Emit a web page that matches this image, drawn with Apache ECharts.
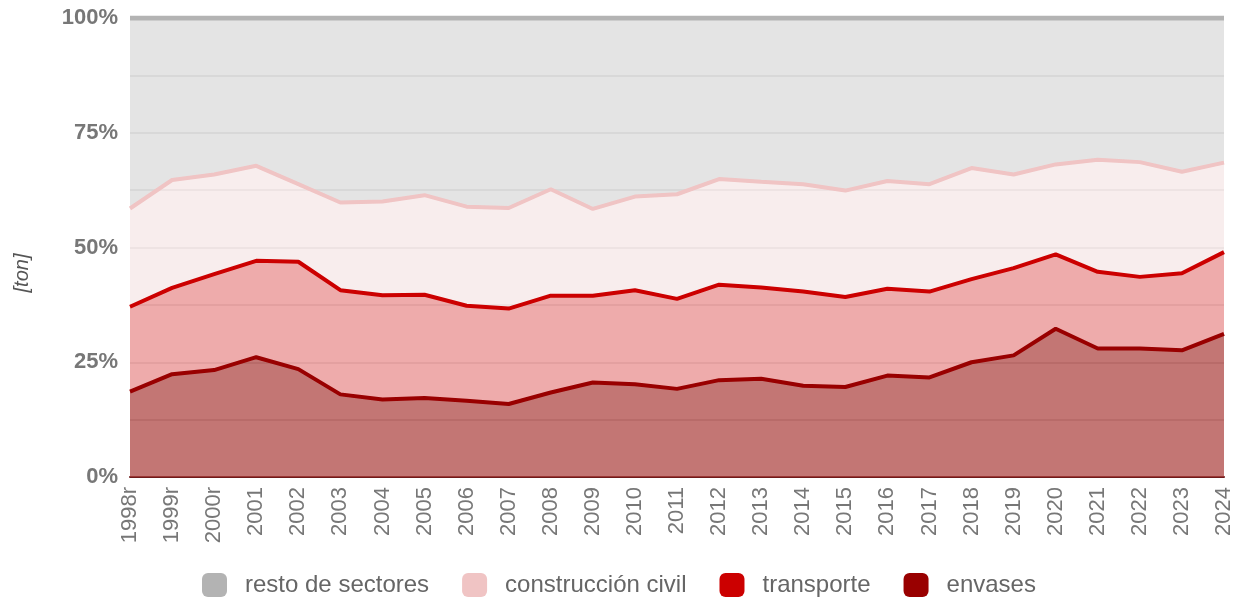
<!DOCTYPE html>
<html><head><meta charset="utf-8">
<script src="https://cdn.jsdelivr.net/npm/echarts@6/dist/echarts.min.js"></script>
<style>html,body{margin:0;padding:0;background:#fff}#c{width:1242px;height:603px}</style>
</head><body><div id="c"></div>
<script>
const categories = ['1998r','1999r','2000r','2001','2002','2003','2004','2005','2006','2007','2008','2009','2010','2011','2012','2013','2014','2015','2016','2017','2018','2019','2020','2021','2022','2023','2024'];
const envases = [18.6,22.4,23.3,26.1,23.5,18.0,16.9,17.2,16.6,15.9,18.4,20.6,20.2,19.2,21.1,21.4,19.9,19.6,22.1,21.7,25.0,26.5,32.3,28.0,28.0,27.6,31.2];
const transporte = [18.5,18.8,20.9,21.0,23.4,22.7,22.7,22.5,20.7,20.8,21.1,18.9,20.5,19.6,20.8,19.9,20.5,19.6,18.9,18.7,18.1,19.0,16.2,16.7,15.6,16.8,17.8];
const construccion = [21.4,23.5,21.7,20.7,16.9,19.1,20.4,21.7,21.6,21.9,23.2,18.9,20.4,22.8,23.0,23.0,23.4,23.2,23.5,23.4,24.2,20.4,19.6,24.4,25.0,22.1,19.5];
const resto = [41.5,35.3,34.1,32.2,36.2,40.2,40.0,38.6,41.1,41.4,37.3,41.6,38.9,38.4,35.1,35.7,36.2,37.6,35.5,36.2,32.7,34.1,31.9,30.9,31.4,33.5,31.5];
const yTicks = [0,25,50,75,100];

const font = "'Liberation Sans', Arial, sans-serif";
function s(name, data, color, area, lw) {
  return {name, type:'line', stack:'total', data, showSymbol:false, symbol:'none',
    itemStyle:{color}, lineStyle:{color, width:lw}, areaStyle:{color:area, opacity:1}};
}
const chart = echarts.init(document.getElementById('c'));
chart.setOption({
  animation:false,
  textStyle:{fontFamily:font},
  grid:{left:130,right:18,top:18,bottom:126},
  graphic:[{type:'text', x:22, y:273, rotation:Math.PI/2,
    style:{text:'[ton]', font:"italic 20px 'Liberation Sans', Arial, sans-serif", fill:'#555', textAlign:'center', textVerticalAlign:'middle'}}],
  legend:{data:['resto de sectores','construcción civil','transporte','envases'], top:568, left:197,
    icon:'roundRect', itemWidth:25, itemHeight:24, itemGap:33,
    textStyle:{fontSize:24,color:'#666',fontFamily:font,padding:[0,0,0,13]}},
  xAxis:{type:'category', data:categories, boundaryGap:false,
    axisLine:{lineStyle:{color:'#6e1a1a',width:2}}, axisTick:{show:false},
    axisLabel:{rotate:90, fontSize:22, color:'#777', margin:10, interval:0, fontFamily:font}},
  yAxis:{type:'value', min:0, max:100, interval:12.5,
    axisLine:{show:false}, axisTick:{show:false},
    splitLine:{lineStyle:{color:'#c8c8c8',width:1.5}},
    axisLabel:{fontSize:22, fontWeight:'bold', color:'#777', margin:12, fontFamily:font,
      formatter:v => yTicks.includes(v) ? v+'%' : ''}},
  series:[
    s('envases', envases, '#990000', 'rgba(172,65,62,0.72)', 4),
    s('transporte', transporte, '#cc0000', 'rgba(231,139,139,0.72)', 4),
    s('construcción civil', construccion, '#f0c4c4', 'rgba(245,231,231,0.75)', 4),
    s('resto de sectores', resto, '#b3b3b3', 'rgba(216,216,216,0.7)', 5)
  ]
});
</script></body></html>
